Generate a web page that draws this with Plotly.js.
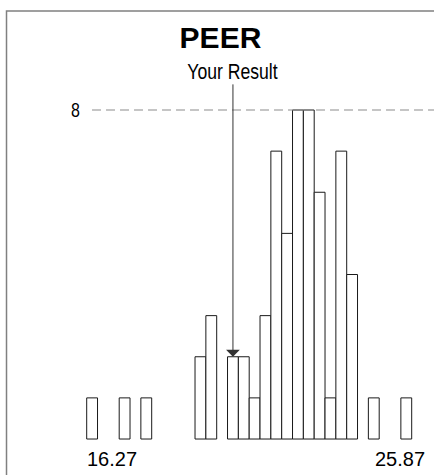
<!DOCTYPE html>
<html>
<head>
<meta charset="utf-8">
<script src="https://cdn.plot.ly/plotly-3.0.1.min.js"></script>
<style>html,body{margin:0;padding:0;background:#fff;}#chart{width:434px;height:475px;}</style>
</head>
<body>
<div id="chart"></div>
<script>
// Data
const titleText = "PEER";
const resultLabel = "Your Result";
const minValue = 16.27;
const maxValue = 25.87;
const binCount = 30;
const binCounts = [1,0,0,1,0,1,0,0,0,0,2,3,0,2,2,1,3,7,5,8,8,6,1,7,4,0,1,0,0,1];
const yourResult = 20.59;
const referenceLine = 8;

const binWidth = (maxValue - minValue) / binCount;
const xs = [], ys = [];
binCounts.forEach((c, i) => {
  if (c > 0) { xs.push(minValue + (i + 0.5) * binWidth); ys.push(c); }
});
const resultBin = Math.min(binCount - 1, Math.floor((yourResult - minValue) / binWidth));
const resultHeight = binCounts[resultBin];

const trace = {
  type: 'bar', x: xs, y: ys, width: binWidth,
  marker: {color: '#ffffff', line: {color: '#1a1a1a', width: 1}},
  hoverinfo: 'none'
};

const font = 'Liberation Sans, Arial, sans-serif';
const narrow = 'Liberation Sans Narrow, Arial Narrow, Liberation Sans, sans-serif';

const layout = {
  width: 434, height: 475,
  margin: {l: 0, r: 0, t: 0, b: 0},
  paper_bgcolor: '#ffffff', plot_bgcolor: '#ffffff',
  showlegend: false,
  bargap: 0,
  title: {text: '<b>' + titleText + '</b>', x: 0.508, xanchor: 'center', y: 0.922, yanchor: 'middle',
          font: {family: font, size: 30, color: '#000'}},
  xaxis: {range: [13.709, 26.529], visible: false, fixedrange: true},
  yaxis: {range: [-0.875, 10.675], visible: false, fixedrange: true},
  shapes: [
    {type: 'rect', xref: 'paper', yref: 'paper', x0: 0.015, x1: 1.1, y0: -0.1, y1: 0.9768,
     line: {color: '#808080', width: 1.5}, fillcolor: 'rgba(0,0,0,0)'},
    {type: 'line', xref: 'paper', yref: 'y', x0: 0.212, x1: 1, y0: referenceLine, y1: referenceLine,
     line: {color: '#8c8c8c', width: 1.2, dash: '9px,5px'}}
  ],
  annotations: [
    {text: String(referenceLine), xref: 'paper', yref: 'y', x: 0.192, y: referenceLine,
     xanchor: 'right', yanchor: 'middle', showarrow: false,
     font: {family: narrow, size: 20, color: '#000'}},
    {text: resultLabel, xref: 'x', yref: 'paper', x: yourResult, y: 0.849,
     xanchor: 'center', yanchor: 'middle', showarrow: false,
     font: {family: narrow, size: 22, color: '#000'}},
    {text: '', xref: 'x', yref: 'y', x: yourResult, y: resultHeight,
     axref: 'x', ayref: 'y', ax: yourResult, ay: 8.66,
     showarrow: true, arrowhead: 1, arrowsize: 2.3, arrowwidth: 1, arrowcolor: '#333', standoff: 0},
    {text: minValue.toFixed(2), xref: 'x', yref: 'paper', x: minValue, y: 0.033,
     xanchor: 'left', yanchor: 'middle', xshift: -2, showarrow: false,
     font: {family: font, size: 20, color: '#000'}},
    {text: maxValue.toFixed(2), xref: 'x', yref: 'paper', x: maxValue, y: 0.033,
     xanchor: 'right', yanchor: 'middle', xshift: 15, showarrow: false,
     font: {family: font, size: 20, color: '#000'}}
  ]
};

Plotly.newPlot('chart', [trace], layout, {displayModeBar: false, staticPlot: true}).then(() => {
  // condense the narrow-font labels in case no narrow face is installed
  document.querySelectorAll('#chart .annotation-text').forEach(t => {
    const s = t.textContent;
    if (s === resultLabel || s === String(referenceLine)) {
      t.style.transformBox = 'fill-box';
      t.style.transformOrigin = 'center';
      t.style.transform = 'scaleX(0.8)';
    }
  });
});
</script>
</body>
</html>
